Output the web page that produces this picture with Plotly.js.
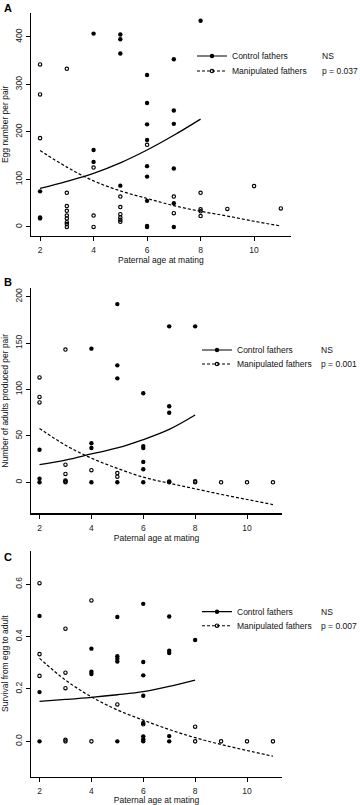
<!DOCTYPE html>
<html><head><meta charset="utf-8">
<script src="https://cdn.plot.ly/plotly-3.0.1.min.js"></script>
<style>html,body{margin:0;padding:0;background:#fff}#chart{width:360px;height:805px}</style>
</head><body><div id="chart"></div>
<script>
// ---------- data ----------
// Panel A: egg number per pair
const ageCtrlA  = [2,2,2,4,4,4,5,5,5,5,6,6,6,6,6,6,6,6,6,7,7,7,7,7,7,8];
const eggsCtrlA = [75,20,18,407,162,137,405,395,365,87,320,261,216,183,128,106,55,2,0,353,245,217,123,50,0,434];
const ageManA   = [2,2,2,3,3,3,3,3,3,3,3,3,4,4,4,5,5,5,5,5,5,6,7,7,8,8,8,8,9,10,11];
const eggsManA  = [342,279,187,333,72,44,34,24,18,10,6,0,125,24,0,64,42,27,20,15,11,173,64,29,72,37,33,23,38,86,39];
// Panel B: number of adults produced per pair
const ageCtrlB    = [2,2,2,4,4,4,4,5,5,5,5,6,6,6,6,6,6,7,7,7,7,7,8];
const adultsCtrlB = [35,4,0,144,42,37,0,192,126,112,0,96,39,37,22,14,0,168,82,75,1,0,168];
const ageManB     = [2,2,2,3,3,3,3,3,3,4,5,5,8,8,9,10,11];
const adultsManB  = [113,92,86,143,19,9,2,1,0,13,10,6,1,0,0,0,0];
// Panel C: survival from egg to adult
const ageCtrlC  = [2,2,2,4,4,4,5,5,5,5,5,6,6,6,6,6,6,6,6,7,7,7,7,7,8];
const survCtrlC = [0.479,0.188,0,0.354,0.266,0.257,0.475,0.325,0.315,0.305,0,0.525,0.303,0.252,0.174,0.07,0.019,0.008,0,0.477,0.346,0.337,0.02,0,0.387];
const ageManC   = [2,2,2,3,3,3,3,3,4,4,5,6,8,8,9,10,11];
const survManC  = [0.604,0.333,0.25,0.43,0.262,0.203,0.006,0,0.538,0,0.141,0.065,0.056,0,0,0,0];
// fitted curves
const fitAgeCtrl = [2,3,4,5,6,7,8];
const fitAgeMan  = [2,3,4,5,6,7,8,9,10,11];
const fitCtrlA = [81,96,113,135,162,193,227];
const fitManA  = [161,126,97,76,60,45,33,23,12,2];
const fitCtrlB = [19,24,30.5,37,46,57,72.5];
const fitManB  = [58,40,26,15,5.5,-1,-7,-13,-18.5,-24];
const fitCtrlC = [0.153,0.160,0.168,0.178,0.190,0.210,0.234];
const fitManC  = [0.317,0.234,0.170,0.120,0.081,0.045,0.014,-0.012,-0.035,-0.057];
// labels
const groupNames = ['Control fathers','Manipulated fathers'];
const ctrlStats = ['NS','NS','NS'];
const manStats  = ['p = 0.037','p = 0.001','p = 0.007'];
const yTitles = ['Egg number per pair','Number of adults produced per pair','Survival from egg to adult'];
const xTitle = 'Paternal age at mating';
const panelLetters = ['A','B','C'];
const xTicks = [2,4,6,8,10];
const yTicksA = [0,100,200,300,400];
const yTicksB = [0,50,100,150,200];
const yTicksC = [0,0.2,0.4,0.6];

// ---------- styling ----------
const W = 360, H = 805;
const FONT = '"Liberation Sans", Arial, Helvetica, sans-serif';
const FS = 8.5;
const px = v => v / W;
const py = v => 1 - v / H;

const panels = [
  {ctrlX: ageCtrlA, ctrlY: eggsCtrlA, manX: ageManA, manY: eggsManA, fc: fitCtrlA, fm: fitManA,
   xr: [1.65, 11.38], yr: [-19, 451], xd: [30.7, 291], yd: [12.7, 236], yt: yTicksA, fmt: '',
   leg: {x: 192, y1: 56, y2: 71, stat: 320}, letterY: 8.5},
  {ctrlX: ageCtrlB, ctrlY: adultsCtrlB, manX: ageManB, manY: adultsManB, fc: fitCtrlB, fm: fitManB,
   xr: [1.66, 11.36], yr: [-33.4, 209], xd: [30.7, 282.3], yd: [288.3, 513.3], yt: yTicksB, fmt: '',
   leg: {x: 197, y1: 350, y2: 364, stat: 319.3}, letterY: 281.5},
  {ctrlX: ageCtrlC, ctrlY: survCtrlC, manX: ageManC, manY: survManC, fc: fitCtrlC, fm: fitManC,
   xr: [1.66, 11.36], yr: [-0.135, 0.728], xd: [30.7, 282.3], yd: [550.7, 776.7], yt: yTicksC, fmt: '.1f',
   leg: {x: 197, y1: 611.7, y2: 625.7, stat: 319.3}, letterY: 557}
];

const traces = [];
const layout = {
  width: W, height: H, margin: {l: 0, r: 0, t: 0, b: 0},
  paper_bgcolor: '#fff', plot_bgcolor: '#fff', showlegend: true,
  font: {family: FONT, size: FS, color: '#111'},
  annotations: []
};

const filledMarker = {symbol: 'circle', size: 4.4, color: '#000'};
const openMarker = {symbol: 'circle-open', size: 3.4, color: '#000', line: {width: 1.15, color: '#000'}};

panels.forEach((p, i) => {
  const n = i === 0 ? '' : String(i + 1);
  const xa = 'x' + n, ya = 'y' + n;
  const lg1 = i === 0 ? 'legend' : 'legend' + (2 * i + 1);
  const lg2 = 'legend' + (2 * i + 2);
  // points
  traces.push({x: p.ctrlX, y: p.ctrlY, xaxis: xa, yaxis: ya, type: 'scatter', mode: 'markers',
    marker: filledMarker, showlegend: false, name: groupNames[0], hoverinfo: 'x+y'});
  traces.push({x: p.manX, y: p.manY, xaxis: xa, yaxis: ya, type: 'scatter', mode: 'markers',
    marker: openMarker, showlegend: false, name: groupNames[1], hoverinfo: 'x+y'});
  // fitted curves
  traces.push({x: fitAgeCtrl, y: p.fc, xaxis: xa, yaxis: ya, type: 'scatter', mode: 'lines',
    line: {color: '#000', width: 1.3, shape: 'spline', smoothing: 1}, showlegend: false, hoverinfo: 'skip'});
  traces.push({x: fitAgeMan, y: p.fm, xaxis: xa, yaxis: ya, type: 'scatter', mode: 'lines',
    line: {color: '#000', width: 1.2, dash: '3px,2px', shape: 'spline', smoothing: 1}, showlegend: false, hoverinfo: 'skip'});
  // legend entries
  traces.push({x: [null], y: [null], xaxis: xa, yaxis: ya, type: 'scatter', mode: 'lines+markers', name: groupNames[0],
    legend: lg1, line: {color: '#000', width: 1.2}, marker: filledMarker});
  traces.push({x: [null], y: [null], xaxis: xa, yaxis: ya, type: 'scatter', mode: 'lines+markers', name: groupNames[1],
    legend: lg2, line: {color: '#000', width: 1.1, dash: '3px,2px'}, marker: openMarker});
  const legBase = {xanchor: 'left', yanchor: 'middle', bgcolor: 'rgba(0,0,0,0)', borderwidth: 0,
    font: {family: FONT, size: FS, color: '#111'}, itemwidth: 30, itemclick: false, itemdoubleclick: false};
  layout[lg1] = Object.assign({}, legBase, {x: px(p.leg.x), y: py(p.leg.y1)});
  layout[lg2] = Object.assign({}, legBase, {x: px(p.leg.x), y: py(p.leg.y2)});

  const axCommon = {showline: true, linecolor: '#000', linewidth: 1.2, ticks: 'outside', ticklen: 4,
    tickwidth: 1, tickcolor: '#000', showgrid: false, zeroline: false, mirror: false, automargin: true,
    tickfont: {family: FONT, size: FS, color: '#222'}, fixedrange: true};
  layout['xaxis' + n] = Object.assign({}, axCommon, {
    domain: [px(p.xd[0]), px(p.xd[1])], anchor: ya, range: p.xr, tickvals: xTicks, ticklabelstandoff: 2,
    title: {text: xTitle, font: {family: FONT, size: FS, color: '#111'}, standoff: 0}});
  layout['yaxis' + n] = Object.assign({}, axCommon, {
    domain: [py(p.yd[1]), py(p.yd[0])], anchor: xa, range: p.yr, tickvals: p.yt, tickformat: p.fmt,
    tickangle: -90, title: {text: yTitles[i], font: {family: FONT, size: FS, color: '#111'}, standoff: 4}});

  layout.annotations.push({xref: 'paper', yref: 'paper', x: px(p.leg.stat), y: py(p.leg.y1), xanchor: 'left', yanchor: 'middle',
    text: ctrlStats[i], showarrow: false, font: {family: FONT, size: FS, color: '#111'}});
  layout.annotations.push({xref: 'paper', yref: 'paper', x: px(p.leg.stat), y: py(p.leg.y2), xanchor: 'left', yanchor: 'middle',
    text: manStats[i], showarrow: false, font: {family: FONT, size: FS, color: '#111'}});
  layout.annotations.push({xref: 'paper', yref: 'paper', x: px(2), y: py(p.letterY), xanchor: 'left', yanchor: 'middle',
    text: '<b>' + panelLetters[i] + '</b>', showarrow: false, font: {family: FONT, size: 11, color: '#000'}});
});

Plotly.newPlot('chart', traces, layout, {displayModeBar: false, staticPlot: true});
</script>
</body></html>
